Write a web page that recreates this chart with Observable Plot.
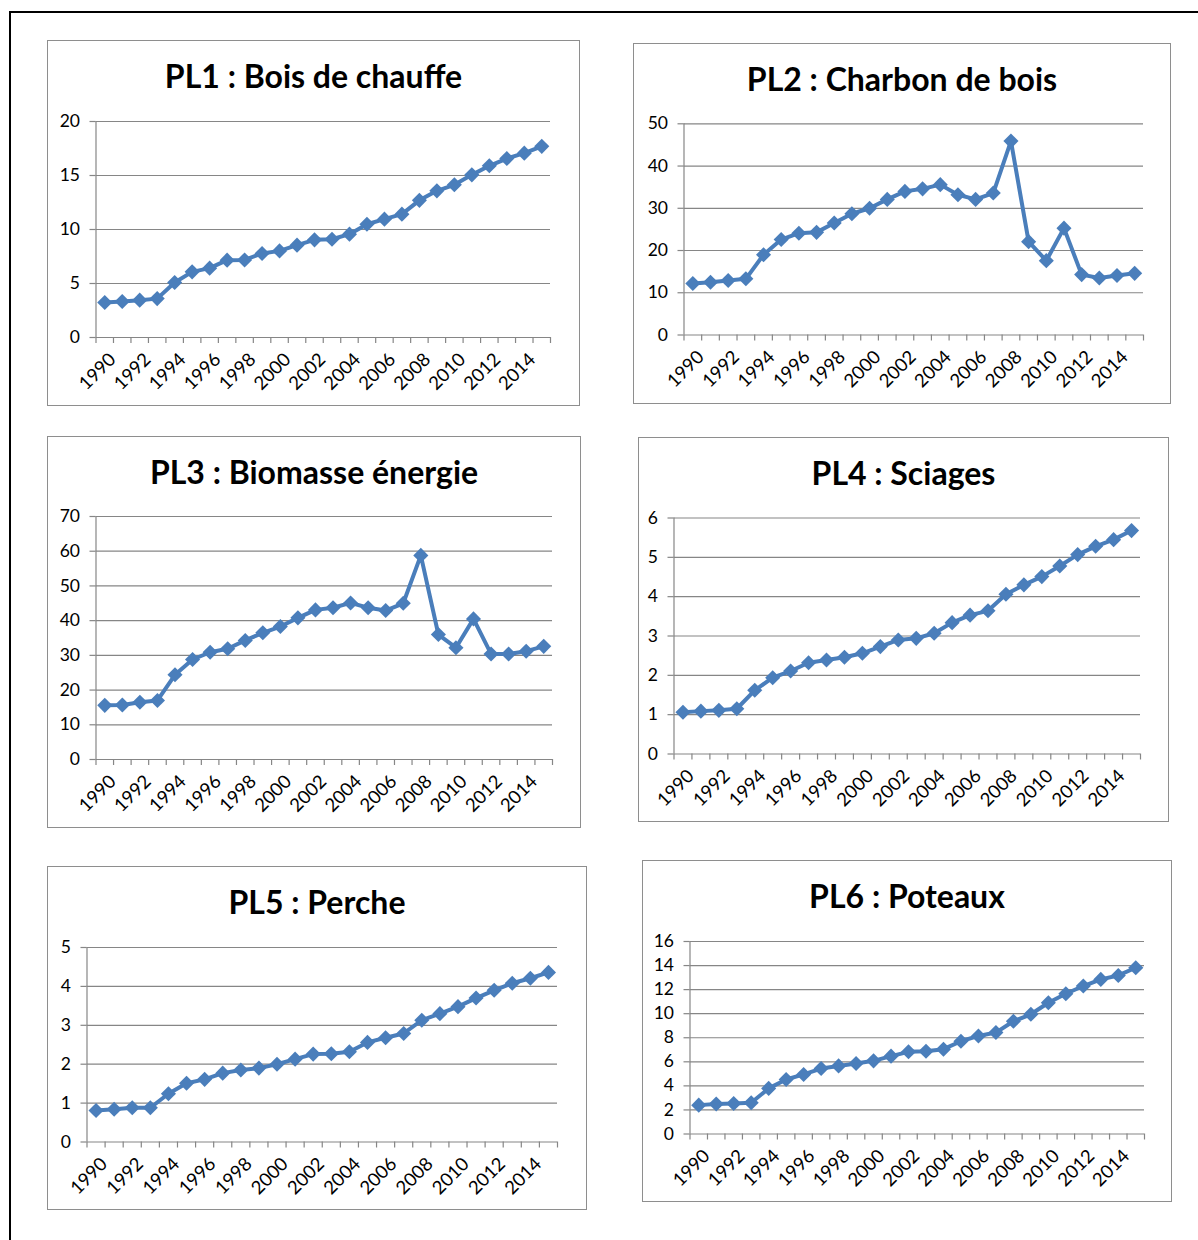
<!DOCTYPE html>
<html>
<head>
<meta charset="utf-8">
<script src="https://cdn.jsdelivr.net/npm/d3@7"></script>
<script src="https://cdn.jsdelivr.net/npm/@observablehq/plot@0.6"></script>
<style>
  html, body { margin: 0; padding: 0; background: #fff; }
  #page { position: relative; width: 1198px; height: 1240px; overflow: hidden; background: #fff; font-family: Lato, "Open Sans", sans-serif; }
  #frame { position: absolute; left: 9px; top: 11px; width: 1300px; height: 1300px; border-left: 2px solid #000; border-top: 2px solid #000; }
  .panel { position: absolute; box-sizing: border-box; border: 1px solid #8e8e8e; background: #fff; }
  .title { position: absolute; left: 0; right: 0; text-align: center; font-weight: 700; font-size: 32px; line-height: 32px; color: #000; white-space: nowrap; }
  .chart { position: absolute; }
</style>
</head>
<body>
<div id="page"><div id="frame"></div></div>
<script>
// ---- Data ----
const years = [1990,1991,1992,1993,1994,1995,1996,1997,1998,1999,2000,2001,2002,2003,2004,2005,2006,2007,2008,2009,2010,2011,2012,2013,2014,2015];
const yearLabels = [1990,1992,1994,1996,1998,2000,2002,2004,2006,2008,2010,2012,2014];

const titles = ["PL1 : Bois de chauffe", "PL2 : Charbon de bois", "PL3 : Biomasse énergie", "PL4 : Sciages", "PL5 : Perche", "PL6 : Poteaux"];

const boisDeChauffe = [3.24,3.33,3.46,3.6,5.09,6.08,6.42,7.16,7.18,7.78,8.02,8.55,9.04,9.1,9.57,10.49,10.96,11.42,12.7,13.58,14.14,15.06,15.9,16.57,17.07,17.7];
const charbonDeBois = [12.2,12.5,12.9,13.3,19.0,22.6,24.1,24.3,26.5,28.7,30.0,32.1,34.0,34.6,35.6,33.2,32.1,33.6,45.9,22.1,17.6,25.3,14.3,13.5,14.1,14.6];
const biomasseEnergie = [15.6,15.7,16.5,17.0,24.4,28.8,30.9,31.9,34.3,36.5,38.3,40.8,43.1,43.7,45.1,43.7,42.9,45.0,58.8,36.0,32.2,40.5,30.4,30.4,31.2,32.6];
const sciages = [1.06,1.09,1.11,1.15,1.62,1.94,2.11,2.32,2.39,2.46,2.56,2.73,2.90,2.94,3.07,3.34,3.53,3.64,4.06,4.30,4.51,4.78,5.07,5.28,5.45,5.68];
const perche = [0.81,0.84,0.88,0.88,1.24,1.51,1.61,1.77,1.85,1.90,2.0,2.13,2.26,2.27,2.32,2.56,2.68,2.79,3.13,3.30,3.48,3.70,3.90,4.08,4.21,4.36];
const poteaux = [2.40,2.49,2.54,2.60,3.79,4.53,4.95,5.44,5.66,5.86,6.08,6.47,6.83,6.88,7.05,7.71,8.15,8.43,9.37,9.95,10.91,11.66,12.30,12.85,13.18,13.82];

const yTicks1 = [0,5,10,15,20];
const yTicks2 = [0,10,20,30,40,50];
const yTicks3 = [0,10,20,30,40,50,60,70];
const yTicks4 = [0,1,2,3,4,5,6];
const yTicks5 = [0,1,2,3,4,5];
const yTicks6 = [0,2,4,6,8,10,12,14,16];

// ---- Layout (page pixels) ----
// box: [left, top, right, bottom]; plot: [axisX, rightX, topY, zeroY]
const layout = [
  {box: [47, 40, 580, 406],  plot: [95.5, 550, 121, 337],   series: boisDeChauffe,   ticks: yTicks1},
  {box: [633, 43, 1171, 404], plot: [683.5, 1143, 123.3, 334.5], series: charbonDeBois,  ticks: yTicks2},
  {box: [47, 436, 581, 828],  plot: [95.5, 552, 516, 759],   series: biomasseEnergie, ticks: yTicks3},
  {box: [638, 437, 1169, 822], plot: [673.5, 1140, 517.5, 753.5], series: sciages,     ticks: yTicks4},
  {box: [47, 866, 587, 1210], plot: [86.5, 557, 947, 1141.5], series: perche,          ticks: yTicks5},
  {box: [642, 860, 1172, 1202], plot: [689.5, 1144, 941, 1133.5], series: poteaux,      ticks: yTicks6}
];

const blue = "#4a7ebb";
const gray = "#868686";
const page = document.getElementById("page");
const boundaries = years.map(y => y - 0.5).concat([years[years.length - 1] + 0.5]);

layout.forEach((L, i) => {
  const [bl, bt, br, bb] = L.box;
  const [ax, rx, ty, zy] = L.plot;
  const panel = document.createElement("div");
  panel.className = "panel";
  panel.style.left = bl + "px"; panel.style.top = bt + "px";
  panel.style.width = (br - bl) + "px"; panel.style.height = (bb - bt) + "px";
  const t = document.createElement("div");
  t.className = "title";
  t.style.top = "19px";
  t.textContent = titles[i];
  panel.appendChild(t);
  page.appendChild(panel);

  const svgTop = bt + 60;
  const W = br - bl, H = bb - svgTop;
  const data = years.map((y, k) => ({year: y, value: L.series[k]}));
  const chart = Plot.plot({
    width: W, height: H,
    marginLeft: ax - bl, marginRight: br - rx,
    marginTop: ty - svgTop, marginBottom: bb - zy,
    style: {fontFamily: "Lato, 'Open Sans', sans-serif", fontSize: "17px", background: "transparent", overflow: "visible"},
    x: {type: "linear", domain: [1989.5, 2015.5], axis: null},
    y: {domain: [0, L.ticks[L.ticks.length - 1]], axis: null},
    marks: [
      Plot.ruleY(L.ticks, {stroke: gray, strokeWidth: 1.2}),
      Plot.ruleX([1989.5], {stroke: gray, strokeWidth: 1.2}),
      Plot.axisY(L.ticks, {tickSize: 6, tickPadding: 10, stroke: gray, fill: "#000", fontSize: 17.5, label: null, strokeWidth: 1.2}),
      Plot.axisX(boundaries, {tickSize: 6, tickFormat: () => "", stroke: gray, label: null, strokeWidth: 1.2}),
      Plot.text(yearLabels, {x: d => d, frameAnchor: "bottom", text: d => String(d), rotate: -45, textAnchor: "end", lineAnchor: "middle", dx: 8, dy: 19, fontSize: 18.5, fill: "#000"}),
      Plot.line(data, {x: "year", y: "value", stroke: blue, strokeWidth: 4, strokeLinejoin: "round"}),
      Plot.dot(data, {x: "year", y: "value", symbol: "diamond2", r: 6.8, fill: blue, stroke: "none"})
    ]
  });
  chart.classList.add("chart");
  chart.style.left = bl + "px"; chart.style.top = svgTop + "px";
  page.appendChild(chart);
});
</script>
</body>
</html>
